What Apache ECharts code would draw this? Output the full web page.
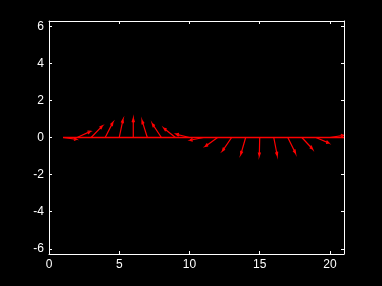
<!DOCTYPE html>
<html><head><meta charset="utf-8">
<script src="https://cdn.jsdelivr.net/npm/echarts@6/dist/echarts.min.js"></script>
<style>html,body{margin:0;padding:0;background:#000;}#c{width:382px;height:286px;}</style>
</head><body><div id="c"></div>
<script>
// Feather plot data: horizontal (u) and vertical (v) components of each arrow, at positions 1..n
const uComp = [0.97, 0.95, 0.80, 0.55, 0.27, 0.00, -0.38, -0.65, -0.83, -0.95, -0.97, -0.88, -0.66, -0.35, -0.03, 0.25, 0.55, 0.76, 0.93, 0.98, 0.87];
const vComp = [-0.10, 0.33, 0.63, 0.82, 0.98, 1.03, 0.92, 0.75, 0.50, 0.18, -0.15, -0.48, -0.73, -0.92, -1.00, -0.98, -0.85, -0.62, -0.30, 0.12, 0.50];
const xTicks = [0, 5, 10, 15, 20];
const yTicks = [-6, -4, -2, 0, 2, 4, 6];

const n = uComp.length;
const arrowData = uComp.map((u, i) => [i + 1, u, vComp[i]]);
const baseline = [[1, 0], [n, 0]];
// MATLAB-style arrow template
const tplX = [0, 1, 0.8, 1, 0.8];
const tplY = [0, 0, 0.08, 0, -0.08];

const chart = echarts.init(document.getElementById('c'), null, {renderer: 'canvas'});
const font = {color: '#fff', fontFamily: 'Liberation Sans, Arial, sans-serif', fontSize: 12};
const axisCommon = {
  axisLine: {show: true, onZero: false, lineStyle: {color: '#fff', width: 1}},
  splitLine: {show: false}
};
chart.setOption({
  backgroundColor: '#000',
  animation: false,
  grid: {left: 49, right: 38, top: 21, bottom: 32, containLabel: false},
  xAxis: [
    Object.assign({type: 'value', min: 0, max: 21, position: 'bottom',
      axisTick: {show: true, inside: true, length: 3, customValues: xTicks, lineStyle: {color: '#fff'}},
      axisLabel: Object.assign({customValues: xTicks, margin: 5}, font)}, axisCommon),
    Object.assign({type: 'value', min: 0, max: 21, position: 'top',
      axisTick: {show: true, inside: true, length: 3, customValues: xTicks, lineStyle: {color: '#fff'}},
      axisLabel: {show: false}}, axisCommon)
  ],
  yAxis: [
    Object.assign({type: 'value', min: -6.28, max: 6.28, position: 'left',
      axisTick: {show: true, inside: true, length: 3, customValues: yTicks, lineStyle: {color: '#fff'}},
      axisLabel: Object.assign({customValues: yTicks, margin: 5}, font)}, axisCommon),
    Object.assign({type: 'value', min: -6.28, max: 6.28, position: 'right',
      axisTick: {show: true, inside: true, length: 3, customValues: yTicks, lineStyle: {color: '#fff'}},
      axisLabel: {show: false}}, axisCommon)
  ],
  series: [
    {
      type: 'line', xAxisIndex: 0, yAxisIndex: 0, data: baseline, symbol: 'none',
      lineStyle: {color: '#ff0000', width: 1.5}, silent: true
    },
    {
      type: 'custom', xAxisIndex: 0, yAxisIndex: 0, clip: true, silent: true,
      data: arrowData,
      encode: {x: 0, y: 2},
      renderItem: function (params, api) {
        const x0 = api.value(0), u = api.value(1), v = api.value(2);
        const pts = tplX.map((a, k) => {
          const b = tplY[k];
          return api.coord([x0 + a * u - b * v, a * v + b * u]);
        });
        return {type: 'polyline', shape: {points: pts},
          style: {stroke: '#ff0000', fill: null, lineWidth: 1.2}};
      }
    }
  ]
});
</script></body></html>
